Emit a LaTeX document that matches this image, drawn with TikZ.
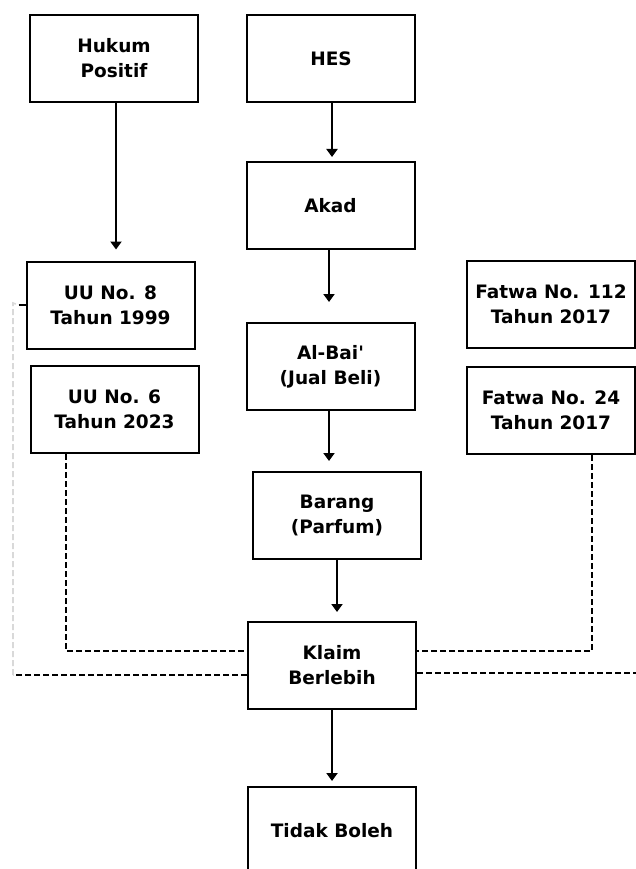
\documentclass[tikz,border=0pt]{standalone}
\usepackage{fontspec}
\newfontfamily\dejavu{DejaVu Sans}
\usetikzlibrary{arrows.meta}
\begin{document}
\begin{tikzpicture}[x=1pt,y=-1pt]
    \tikzstyle{every node}+=[inner sep=0pt]
    \tikzstyle{kotak}=[draw=black, line width=2pt, minimum width=168pt, minimum height=87pt, align=center, font=\dejavu\fontsize{18.5}{25}\selectfont\bfseries]
    \tikzstyle{panah}=[black, line width=2pt, -{Triangle[width=11pt,length=8pt]}]
    \tikzstyle{putus}=[black, line width=1.6pt, dash pattern=on 6pt off 3pt]
    \useasboundingbox (0,0) rectangle (636,869);
    \node [kotak] (hukum) at (114,58.5) {Hukum\\Positif};
    \node [kotak] (hes) at (331,58.5) {HES};
    \node [kotak] (uu8) at (110.5,305) {UU No. 8\\Tahun 1999};
    \node [kotak] (uu6) at (114.5,409.5) {UU No. 6\\Tahun 2023};
    \node [kotak] (akad) at (330.5,205.5) {Akad};
    \node [kotak] (albai) at (330.5,366.5) {Al-Bai'\\(Jual Beli)};
    \node [kotak] (barang) at (337,515.5) {Barang\\(Parfum)};
    \node [kotak] (klaim) at (332,665.5) {Klaim\\Berlebih};
    \node [kotak] (tidak) at (332,830.5) {Tidak Boleh};
    \node [kotak] (f112) at (551,304.5) {Fatwa No. 112\\Tahun 2017};
    \node [kotak] (f24) at (551,410.5) {Fatwa No. 24\\Tahun 2017};
    \coordinate (kiribawah) at (13,675);
    \coordinate (kiriatas) at (13,303);
    \coordinate (kananujung) at (636,673);
    % panah utama
    \draw [panah, shorten >=11pt] ([xshift=2pt]hukum.south) -- ([xshift=2pt]hukum.south |- uu8.north);
    \draw [panah, shorten >=4pt] ([xshift=1pt]hes.south) -- ([xshift=1pt]hes.south |- akad.north);
    \draw [panah, shorten >=20pt] ([xshift=-1.5pt]akad.south) -- ([xshift=-1.5pt]akad.south |- albai.north);
    \draw [panah, shorten >=10pt] ([xshift=-1.5pt]albai.south) -- ([xshift=-1.5pt]albai.south |- barang.north);
    \draw [panah, shorten >=9pt] (barang.south) -- (barang.south |- klaim.north);
    \draw [panah, shorten >=5pt] (klaim.south) -- (tidak.north);
    % garis putus-putus
    \draw [putus] ([xshift=-48.5pt]uu6.south) |- ([yshift=14.5pt]klaim.west);
    \draw [putus] ([xshift=41pt]f24.south) |- ([yshift=14.5pt]klaim.east);
    \draw [putus] ([yshift=-9.5pt]klaim.west) -- (kiribawah);
    \draw [putus] ([yshift=-7.5pt]klaim.east) -- (kananujung);
    \draw [putus, black!15] (kiribawah) -- (kiriatas) -- ([xshift=-7pt]uu8.west);
    \draw [black, line width=1.6pt] ([xshift=-7pt]uu8.west) -- (uu8.west);
\end{tikzpicture}
\end{document}
